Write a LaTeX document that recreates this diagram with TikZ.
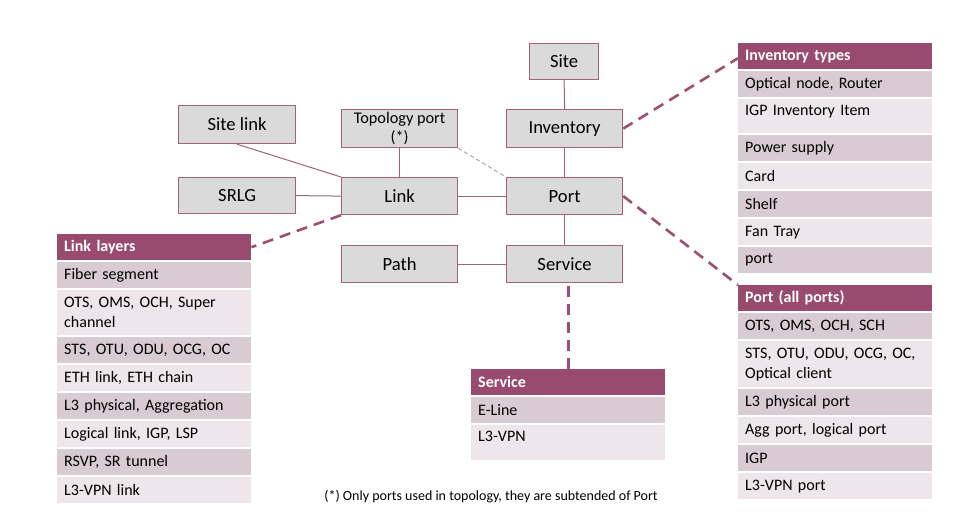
\documentclass[tikz,border=0pt]{standalone}
\usepackage{fontspec}
\setmainfont{Carlito}
\definecolor{hdr}{HTML}{984B6E}
\definecolor{rowdark}{HTML}{D9CBD2}
\definecolor{rowlight}{HTML}{EEE6EA}
\definecolor{boxfill}{HTML}{DADADA}
\definecolor{boxline}{HTML}{A3607F}
\definecolor{lineclr}{HTML}{A3607F}
\definecolor{dashclr}{HTML}{9B4F72}
\definecolor{dashthinclr}{HTML}{C49AAE}
\tikzset{
  box/.style={draw=boxline, fill=boxfill, line width=1.2pt, inner sep=0pt, anchor=north west, align=center, font=\fontsize{18.6}{21}\selectfont},
  row/.style={anchor=north west, inner xsep=7pt, inner ysep=0pt, text width=180pt, align=left, font=\fontsize{16}{20}\selectfont, text=black},
  dark/.style={row, fill=rowdark},
  light/.style={row, fill=rowlight},
  hdrrow/.style={row, fill=hdr, text=white, font=\fontsize{16}{20}\selectfont\bfseries},
  conn/.style={draw=lineclr, line width=1pt},
  dashthick/.style={draw=dashclr, line width=2.6pt, dash pattern=on 11pt off 7pt},
  dashthin/.style={draw=dashthinclr, line width=1pt, dash pattern=on 4pt off 3pt}
}
\begin{document}
\begin{tikzpicture}[x=1pt,y=-1pt]
\useasboundingbox (0,0) rectangle (971,525);
\fill[white] (0,0) rectangle (971,525);
% main boxes
\node[box, minimum width=69pt, minimum height=36pt] (site) at (529,43) {Site};
\node[box, minimum width=116pt, minimum height=38pt] (inventory) at (506,109) {Inventory};
\node[box, minimum width=116pt, minimum height=37pt] (port) at (506,177) {Port};
\node[box, minimum width=116pt, minimum height=37pt] (service) at (506,245) {Service};
\node[box, minimum width=116pt, minimum height=37pt] (path) at (341,245) {Path};
\node[box, minimum width=116pt, minimum height=37pt] (link) at (341,177) {Link};
\node[box, minimum width=116pt, minimum height=38pt, font=\fontsize{16.3}{19.5}\selectfont] (topo) at (341,109) {Topology port\\(*)};
\node[box, minimum width=117pt, minimum height=38pt] (sitelink) at (178,105) {Site link};
\node[box, minimum width=117pt, minimum height=36pt] (srlg) at (178,177) {SRLG};
% solid connectors
\draw[conn] (site.south) -- (inventory.north);
\draw[conn] (inventory.south) -- (port.north);
\draw[conn] (port.south) -- (service.north);
\draw[conn] (path.east) -- (service.west);
\draw[conn] (link.east) -- (port.west);
\draw[conn] (srlg.east) -- (link.west);
\draw[conn] (topo.south) -- (link.north);
\draw[conn] (sitelink.south) -- (link.north west);
\draw[dashthin] (topo.south east) -- (port.north west);
% Link layers table
\node[hdrrow, minimum height=26pt] (llh) at (57,234) {Link layers};
\node[dark, minimum height=26pt] (ll1) at (57,262) {Fiber segment};
\node[light, minimum height=45pt] (ll2) at (57,290) {OTS, OMS, OCH, Super\\channel};
\node[dark, minimum height=26pt] (ll3) at (57,337) {STS, OTU, ODU, OCG, OC};
\node[light, minimum height=26pt] (ll4) at (57,365) {ETH link, ETH chain};
\node[dark, minimum height=26pt] (ll5) at (57,393) {L3 physical, Aggregation};
\node[light, minimum height=26pt] (ll6) at (57,421) {Logical link, IGP, LSP};
\node[dark, minimum height=26pt] (ll7) at (57,449) {RSVP, SR tunnel};
\node[light, minimum height=26pt] (ll8) at (57,477) {L3-VPN link};
% Inventory types table
\node[hdrrow, minimum height=26pt] (ith) at (738,43) {Inventory types};
\node[dark, minimum height=26pt] (it1) at (738,71) {Optical node, Router};
\node[light, minimum height=34pt, text depth=12pt] (it2) at (738,99) {IGP Inventory Item};
\node[dark, minimum height=26pt] (it3) at (738,135) {Power supply};
\node[light, minimum height=26pt] (it4) at (738,163) {Card};
\node[dark, minimum height=26pt] (it5) at (738,191) {Shelf};
\node[light, minimum height=26pt] (it6) at (738,219) {Fan Tray};
\node[dark, minimum height=26pt] (it7) at (738,247) {port};
% Port (all ports) table
\node[hdrrow, minimum height=26pt] (pah) at (738,285) {Port (all ports)};
\node[dark, minimum height=26pt] (pa1) at (738,313) {OTS, OMS, OCH, SCH};
\node[light, minimum height=46pt] (pa2) at (738,341) {STS, OTU, ODU, OCG, OC,\\Optical client};
\node[dark, minimum height=26pt] (pa3) at (738,389) {L3 physical port};
\node[light, minimum height=26pt] (pa4) at (738,417) {Agg port, logical port};
\node[dark, minimum height=26pt] (pa5) at (738,445) {IGP};
\node[light, minimum height=26pt] (pa6) at (738,473) {L3-VPN port};
% Service table
\node[hdrrow, minimum height=26pt] (svh) at (471,369) {Service};
\node[dark, minimum height=26pt] (sv1) at (471,397) {E-Line};
\node[light, minimum height=35pt, text depth=13pt] (sv2) at (471,425) {L3-VPN};
% dashed connectors
\draw[dashthick] (link.south west) -- (llh.east);
\draw[dashthick] (inventory.east) -- ([yshift=-2pt]ith.west);
\draw[dashthick] (port.east) -- (pah.north west);
\draw[dashthick] (svh.north) -- (svh.north |- service.south);
% footnote
\node[font=\fontsize{14}{16}\selectfont] (note) at (491,497) {(*) Only ports used in topology, they are subtended of Port};
\end{tikzpicture}
\end{document}
